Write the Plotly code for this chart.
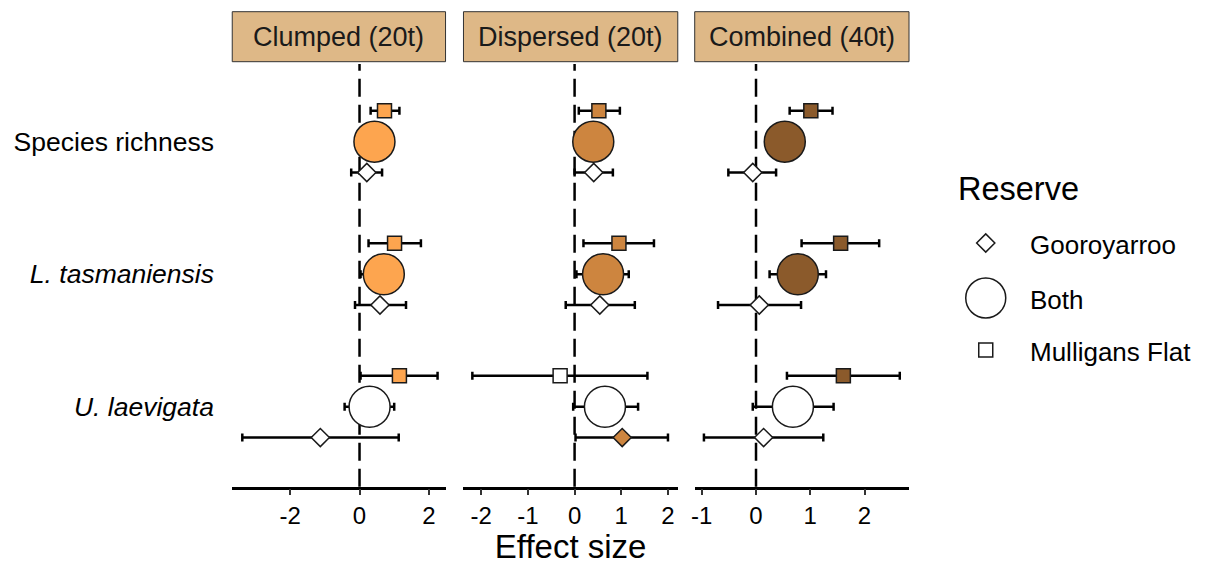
import plotly.graph_objects as go

# ---------------- data ----------------
responses = ["Species richness", "L. tasmaniensis", "U. laevigata"]
response_ticktext = ["Species richness", "<i>L. tasmaniensis</i>", "<i>U. laevigata</i>"]
panels = ["Clumped (20t)", "Dispersed (20t)", "Combined (40t)"]
reserves = ["Gooroyarroo", "Both", "Mulligans Flat"]

# Clumped (20t)
clumped_goo_est = [0.21, 0.59, -1.13]
clumped_goo_lo = [-0.24, -0.13, -3.38]
clumped_goo_hi = [0.65, 1.34, 1.13]
clumped_goo_fill = [0, 0, 0]
clumped_both_est = [0.43, 0.70, 0.29]
clumped_both_lo = [0.05, 0.03, -0.43]
clumped_both_hi = [0.80, 1.20, 1.00]
clumped_both_fill = [1, 1, 0]
clumped_mf_est = [0.72, 1.01, 1.15]
clumped_mf_lo = [0.32, 0.26, 0.03]
clumped_mf_hi = [1.15, 1.77, 2.25]
clumped_mf_fill = [1, 1, 1]

# Dispersed (20t)
dispersed_goo_est = [0.41, 0.54, 1.02]
dispersed_goo_lo = [0.00, -0.19, 0.02]
dispersed_goo_hi = [0.82, 1.29, 2.00]
dispersed_goo_fill = [0, 0, 1]
dispersed_both_est = [0.40, 0.61, 0.65]
dispersed_both_lo = [0.05, 0.04, -0.03]
dispersed_both_hi = [0.75, 1.16, 1.36]
dispersed_both_fill = [1, 1, 0]
dispersed_mf_est = [0.52, 0.95, -0.31]
dispersed_mf_lo = [0.09, 0.19, -2.19]
dispersed_mf_hi = [0.97, 1.70, 1.56]
dispersed_mf_fill = [1, 1, 0]

# Combined (40t)
combined_goo_est = [-0.06, 0.06, 0.14]
combined_goo_lo = [-0.51, -0.70, -0.96]
combined_goo_hi = [0.37, 0.83, 1.24]
combined_goo_fill = [0, 0, 0]
combined_both_est = [0.53, 0.77, 0.68]
combined_both_lo = [0.20, 0.25, -0.06]
combined_both_hi = [0.85, 1.29, 1.43]
combined_both_fill = [1, 1, 0]
combined_mf_est = [1.01, 1.56, 1.61]
combined_mf_lo = [0.62, 0.84, 0.57]
combined_mf_hi = [1.41, 2.27, 2.65]
combined_mf_fill = [1, 1, 1]

panel_colors = ["#FDA54F", "#CD853F", "#8B5A2B"]
x_ticks = [[-2, 0, 2], [-2, -1, 0, 1, 2], [-1, 0, 1, 2]]
x_ranges = [[-3.67, 2.48], [-2.38, 2.21], [-1.13, 2.82]]

data = [
    {"goo": (clumped_goo_est, clumped_goo_lo, clumped_goo_hi, clumped_goo_fill),
     "both": (clumped_both_est, clumped_both_lo, clumped_both_hi, clumped_both_fill),
     "mf": (clumped_mf_est, clumped_mf_lo, clumped_mf_hi, clumped_mf_fill)},
    {"goo": (dispersed_goo_est, dispersed_goo_lo, dispersed_goo_hi, dispersed_goo_fill),
     "both": (dispersed_both_est, dispersed_both_lo, dispersed_both_hi, dispersed_both_fill),
     "mf": (dispersed_mf_est, dispersed_mf_lo, dispersed_mf_hi, dispersed_mf_fill)},
    {"goo": (combined_goo_est, combined_goo_lo, combined_goo_hi, combined_goo_fill),
     "both": (combined_both_est, combined_both_lo, combined_both_hi, combined_both_fill),
     "mf": (combined_mf_est, combined_mf_lo, combined_mf_hi, combined_mf_fill)},
]

# ---------------- styling ----------------
W, H = 1212, 565
FONT = "Arial, Liberation Sans, sans-serif"
base_y = [3, 2, 1]
reserve_style = {
    "goo": dict(name="Gooroyarroo", symbol="diamond", size=14, offset=-0.233),
    "mf": dict(name="Mulligans Flat", symbol="square", size=14, offset=0.233),
    "both": dict(name="Both", symbol="circle", size=41, offset=0.0),
}

fig = go.Figure()

x_domains = [[229 / W, 443 / W], [461 / W, 676 / W], [693 / W, 908 / W]]
y_domain = [1 - 486.7 / H, 1 - 64 / H]
y_range = [0.396, 3.586]

for p in range(3):
    ax = "" if p == 0 else str(p + 1)
    for key in ["goo", "mf", "both"]:
        est, lo, hi, fill = data[p][key]
        st = reserve_style[key]
        colors = [panel_colors[p] if f else "white" for f in fill]
        fig.add_trace(go.Scatter(
            x=est,
            y=[b + st["offset"] for b in base_y],
            mode="markers",
            name=st["name"],
            showlegend=False,
            xaxis="x" + ax, yaxis="y" + ax,
            marker=dict(symbol=st["symbol"], size=st["size"], color=colors,
                        line=dict(color="#1a1a1a", width=1.5)),
            error_x=dict(type="data", symmetric=False,
                         array=[h - e for h, e in zip(hi, est)],
                         arrayminus=[e - l for e, l in zip(est, lo)],
                         color="black", thickness=2.5, width=4),
            cliponaxis=False,
        ))

    xa = dict(domain=x_domains[p], range=x_ranges[p], tickvals=x_ticks[p],
              ticktext=[str(t) if t >= 0 else "-" + str(-t) for t in x_ticks[p]],
              showline=True, linecolor="black", linewidth=2.5,
              ticks="outside", ticklen=6, tickwidth=2, tickcolor="#333",
              showgrid=False, zeroline=False,
              tickfont=dict(family=FONT, size=24, color="black"),
              anchor="y" + ax)
    ya = dict(domain=y_domain, range=y_range, showgrid=False, zeroline=False,
              showline=False, anchor="x" + ax)
    if p == 0:
        ya.update(tickvals=base_y, ticktext=response_ticktext,
                  ticks="outside", ticklen=12, tickcolor="rgba(0,0,0,0)",
                  tickfont=dict(family=FONT, size=26.5, color="black"))
    else:
        ya.update(showticklabels=False, ticks="")
    if p == 1:
        xa.update(title=dict(text="Effect size", standoff=2,
                             font=dict(family=FONT, size=33, color="black")))
    fig.update_layout(**{"xaxis" + ax: xa, "yaxis" + ax: ya})

    # dashed zero line
    fig.add_shape(type="line", xref="x" + ax, yref="y" + ax + " domain",
                  x0=0, x1=0, y0=0, y1=1, layer="below",
                  line=dict(color="black", width=2.5, dash="18px,8px"))
    # facet header
    hy0, hy1 = 1 - 61.7 / H, 1 - 11.7 / H
    fig.add_shape(type="rect", xref="x" + ax + " domain", yref="paper",
                  x0=0, x1=1, y0=hy0, y1=hy1,
                  fillcolor="#DEB887", line=dict(color="#333333", width=1))
    fig.add_annotation(xref="x" + ax + " domain", yref="paper", x=0.5,
                       y=(hy0 + hy1) / 2, text=panels[p], showarrow=False,
                       font=dict(family=FONT, size=27, color="#1a1a1a"),
                       xanchor="center", yanchor="middle")

# ---------------- custom legend (pixel-coordinate axis) ----------------
leg_x = [985, 985, 985]
leg_y = [243, 298, 350]
leg_keys = ["goo", "both", "mf"]
for key, lx, ly in zip(leg_keys, leg_x, leg_y):
    st = reserve_style[key]
    fig.add_trace(go.Scatter(
        x=[lx], y=[ly], mode="markers", showlegend=False, name=st["name"],
        xaxis="x4", yaxis="y4", hoverinfo="skip",
        marker=dict(symbol=st["symbol"], size=st["size"] if key != "both" else 40,
                    color="white", line=dict(color="#1a1a1a", width=1.5)),
        cliponaxis=False,
    ))
    fig.add_annotation(xref="x4", yref="y4", x=1027, y=ly + 2, text=st["name"],
                       showarrow=False, xanchor="left", yanchor="middle",
                       font=dict(family=FONT, size=26, color="black"))
fig.add_annotation(xref="x4", yref="y4", x=955, y=189, text="Reserve",
                   showarrow=False, xanchor="left", yanchor="middle",
                   font=dict(family=FONT, size=32.5, color="black"))

fig.update_layout(
    xaxis4=dict(domain=[940 / W, 1], range=[940, W], visible=False, anchor="y4"),
    yaxis4=dict(domain=[0, 1], range=[H, 0], visible=False, anchor="x4"),
)

fig.update_layout(
    width=W, height=H,
    margin=dict(l=0, r=0, t=0, b=0),
    paper_bgcolor="white", plot_bgcolor="white",
    font=dict(family=FONT, color="black"),
    showlegend=False,
)

fig.write_html("out.html")
